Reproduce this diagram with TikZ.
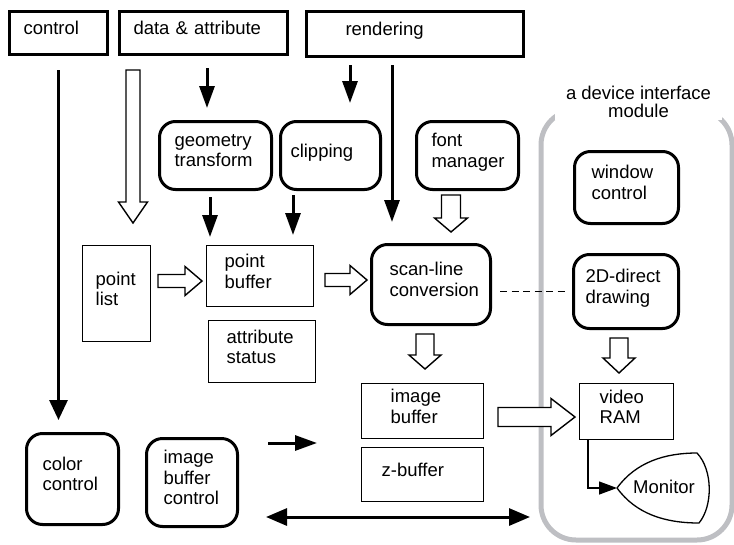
\documentclass[tikz,border=0pt]{standalone}
\usepackage{fontspec}
\setmainfont{Liberation Sans}
\usetikzlibrary{arrows.meta,calc}
\hyphenpenalty=10000
\exhyphenpenalty=10000
\definecolor{modgray}{RGB}{190,191,195}
\tikzset{
  topbox/.style={draw, line width=3, anchor=north west, align=left, inner ysep=0, text depth=10},
  rbox/.style={draw, line width=3, rounded corners=16, anchor=north west, align=left, inner ysep=0, text depth=10},
  tbox/.style={draw, line width=1.4, anchor=north west, align=left, inner ysep=0, text depth=10},
  twolines/.style={text depth=30.5},
  threelines/.style={text depth=51},
  flow/.style={line width=3, -{Triangle[length=22pt,width=15pt]}},
  fat/.style args={#1/#2/#3}{draw, line width=1.4, fill=white, to path={
      ($(\tikztostart)!#1!-90:(\tikztotarget)$)
      -- ($($(\tikztotarget)!#3!(\tikztostart)$)!#1!-90:(\tikztotarget)$)
      -- ($($(\tikztotarget)!#3!(\tikztostart)$)!#2!-90:(\tikztotarget)$)
      -- (\tikztotarget)
      -- ($($(\tikztotarget)!#3!(\tikztostart)$)!#2!90:(\tikztotarget)$)
      -- ($($(\tikztotarget)!#3!(\tikztostart)$)!#1!90:(\tikztotarget)$)
      -- ($(\tikztostart)!#1!90:(\tikztotarget)$) -- cycle}},
}
\begin{document}
\begin{tikzpicture}[x=1pt, y=-1pt, font=\fontsize{18.5}{20.5}\selectfont]
  \useasboundingbox (0,0) rectangle (734,544);
  % device interface module
  \draw[modgray, line width=5, rounded corners=35] (541,110) rectangle (732,540);
  \node[fill=white, align=center, minimum width=167, inner ysep=2, anchor=south,
        font=\fontsize{18.5}{18}\selectfont] (mod) at (638.5,120) {a device interface\\module};

  % blocks
  \node[topbox, minimum width=98, minimum height=43, inner xsep=14, text width=70] (ctrl) at (8,10) {control};
  \node[topbox, minimum width=168, minimum height=43, inner xsep=14, text width=140] (data) at (118,10) {data \& attribute};
  \node[topbox, minimum width=217, minimum height=45, inner xsep=39, text width=139] (rend) at (305,10) {rendering};
  \node[rbox, twolines, minimum width=112, minimum height=68, inner xsep=15, text width=82] (geom) at (158,120) {geometry\\transform};
  \node[rbox, minimum width=100, minimum height=68, inner xsep=10, text width=80] (clip) at (279,120) {clipping};
  \node[rbox, twolines, minimum width=102, minimum height=68, inner xsep=15, text width=72] (font) at (415,120) {font\\manager};
  \node[tbox, twolines, minimum width=68, minimum height=96, inner xsep=13, text width=42] (plist) at (82,245) {point\\list};
  \node[tbox, twolines, minimum width=107, minimum height=61, inner xsep=18, text width=71] (pbuf) at (206,245) {point\\buffer};
  \node[tbox, twolines, minimum width=107, minimum height=62, inner xsep=18, text width=71] (attr) at (208,320) {attribute\\status};
  \node[rbox, twolines, minimum width=119, minimum height=80, inner xsep=18, text width=83] (scan) at (370,243) {scan-line\\conversion};
  \node[rbox, twolines, minimum width=104, minimum height=72, inner xsep=17, text width=70] (win) at (573,150) {window\\control};
  \node[rbox, twolines, minimum width=105, minimum height=74, inner xsep=12, text width=81] (ddraw) at (572,253) {2D-direct\\drawing};
  \node[tbox, twolines, minimum width=122, minimum height=55, inner xsep=29, text width=64] (ibuf) at (361,383) {image\\buffer};
  \node[tbox, minimum width=122, minimum height=54, inner xsep=20, text width=82] (zbuf) at (361,447) {z-buffer};
  \node[tbox, twolines, minimum width=94, minimum height=56, inner xsep=20, text width=54] (vram) at (579,383) {video\\RAM};
  \node[rbox, twolines, minimum width=92, minimum height=91, inner xsep=16, text width=60] (colc) at (25,432) {color\\control};
  \node[rbox, threelines, minimum width=91, minimum height=88, inner xsep=17, text width=57] (ibc) at (145,437) {image\\buffer\\control};

  % monitor
  \node (mon) at (664,487) {Monitor};
  \coordinate (monL) at (617,488);
  \draw[line width=1.3] (monL) .. controls (636,462) and (665,453) .. (697,453)
    .. controls (713,470) and (713,506) .. (699,523)
    .. controls (665,523) and (636,514) .. (monL);

  % hollow arrows
  \coordinate (h1a) at (133,70);  \coordinate (h1b) at (133,223);
  \coordinate (h2a) at (451,195); \coordinate (h2b) at (451,232);
  \coordinate (h3a) at (158,281); \coordinate (h3b) at (202,281);
  \coordinate (h4a) at (325,280); \coordinate (h4b) at (367,280);
  \coordinate (h5a) at (425,334); \coordinate (h5b) at (425,369);
  \coordinate (h6a) at (619,338); \coordinate (h6b) at (619,373);
  \coordinate (h7a) at (498,417); \coordinate (h7b) at (575,417);
  \draw[fat=7pt/14.5pt/21pt] (h1a) to (h1b);
  \draw[fat=9.5pt/16.5pt/14pt] (h2a) to (h2b);
  \draw[fat=6.5pt/14.5pt/17pt] (h3a) to (h3b);
  \draw[fat=6.5pt/14.5pt/17pt] (h4a) to (h4b);
  \draw[fat=9pt/16pt/14pt] (h5a) to (h5b);
  \draw[fat=9pt/16pt/15pt] (h6a) to (h6b);
  \draw[fat=9.5pt/18.5pt/24pt] (h7a) to (h7b);

  % black arrows
  \coordinate (b1a) at (207,68);  \coordinate (b1b) at (207,108);
  \coordinate (b2a) at (350,65);  \coordinate (b2b) at (350,103);
  \coordinate (b3a) at (392,65);  \coordinate (b3b) at (392,222);
  \coordinate (b4a) at (210,197); \coordinate (b4b) at (210,237);
  \coordinate (b5a) at (293,195); \coordinate (b5b) at (293,235);
  \coordinate (b6a) at (268,443); \coordinate (b6b) at (317,443);
  \coordinate (b7a) at (266,517); \coordinate (b7b) at (530,517);
  \draw[flow, -{Triangle[length=20pt,width=18pt]}, shorten <=14, shorten >=12] (ctrl.south) -- (ctrl.south |- colc.north);
  \draw[flow] (b1a) -- (b1b);
  \draw[flow] (b2a) -- (b2b);
  \draw[flow] (b3a) -- (b3b);
  \draw[flow] (b4a) -- (b4b);
  \draw[flow] (b5a) -- (b5b);
  \draw[flow] (b6a) -- (b6b);
  \draw[flow, {Triangle[length=21pt,width=17pt]}-{Triangle[length=21pt,width=17pt]}] (b7a) -- (b7b);

  \draw[line width=1.3, dash pattern=on 7pt off 4.5pt, shorten <=8, shorten >=7] (scan.east |- ddraw.west) -- (ddraw.west);
  \draw[line width=1.3, -{Triangle[length=18pt,width=13pt]}] ([xshift=9]vram.south west) |- (monL);
\end{tikzpicture}
\end{document}
